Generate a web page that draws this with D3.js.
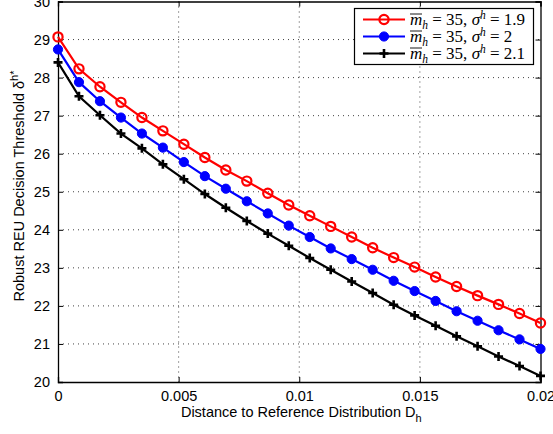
<!DOCTYPE html>
<html><head><meta charset="utf-8">
<script src="https://cdn.jsdelivr.net/npm/d3@7"></script>
<style>body{margin:0;background:#fff;} svg{display:block;}</style>
</head><body>
<svg id="c" width="553" height="434"></svg>
<script>
const nPts = 24;
const xValues = d3.range(nPts).map(i => i * 0.02 / 23);
const red = [29.07,28.23,27.76,27.35,26.95,26.60,26.25,25.90,25.57,25.28,24.96,24.65,24.37,24.09,23.81,23.53,23.27,23.02,22.76,22.51,22.27,22.04,21.80,21.55];
const blue = [28.74,27.88,27.38,26.95,26.53,26.16,25.78,25.41,25.08,24.75,24.43,24.11,23.81,23.51,23.23,22.95,22.66,22.39,22.13,21.86,21.61,21.36,21.12,20.87];
const black = [28.40,27.51,27.01,26.53,26.14,25.72,25.33,24.94,24.58,24.23,23.90,23.58,23.26,22.95,22.64,22.34,22.03,21.75,21.48,21.20,20.94,20.67,20.42,20.16];
const xTicks = [0,0.005,0.01,0.015,0.02];
const xTickLabels = ["0","0.005","0.01","0.015","0.02"];
const yTicks = [20,21,22,23,24,25,26,27,28,29,30];
const seriesNames = ["1.9","2","2.1"];

const svg = d3.select("#c");
const L=58, R=540.5, T=1.5, B=382;
const x = d3.scaleLinear().domain([0,0.02]).range([L,R]);
const y = d3.scaleLinear().domain([20,30]).range([B,T]);
const font = "'Liberation Sans', Arial, Helvetica, sans-serif";

// grid
const g = svg.append("g");
g.selectAll(".gx").data(xTicks.slice(1,-1)).enter().append("line")
 .attr("x1",d=>x(d)).attr("x2",d=>x(d)).attr("y1",T).attr("y2",B)
 .attr("stroke","#444").attr("stroke-width",1).attr("stroke-dasharray","1,4");
g.selectAll(".gy").data(yTicks.slice(1,-1)).enter().append("line")
 .attr("y1",d=>y(d)).attr("y2",d=>y(d)).attr("x1",L).attr("x2",R)
 .attr("stroke","#444").attr("stroke-width",1).attr("stroke-dasharray","1,4");

// axes
const ax = svg.append("g").attr("transform",`translate(0,${B})`)
 .call(d3.axisBottom(x).tickValues(xTicks).tickSize(-5).tickPadding(9).tickFormat((d,i)=>xTickLabels[i]));
const axT = svg.append("g").attr("transform",`translate(0,${T})`)
 .call(d3.axisTop(x).tickValues(xTicks).tickSize(-5).tickFormat(""));
const ay = svg.append("g").attr("transform",`translate(${L},0)`)
 .call(d3.axisLeft(y).tickValues(yTicks).tickSize(-5).tickPadding(8));
const ayR = svg.append("g").attr("transform",`translate(${R},0)`)
 .call(d3.axisRight(y).tickValues(yTicks).tickSize(-5).tickFormat(""));
[ax,axT,ay,ayR].forEach(a=>{
  a.selectAll("path").attr("stroke","#000").attr("stroke-width",1.3);
  a.selectAll("line").attr("stroke","#000");
  a.selectAll("text").attr("font-family",font).attr("font-size",14.5).attr("fill","#000");
});

// series
const series = [
 {vals:red, color:"#ff0000", marker:"open"},
 {vals:blue, color:"#0000ff", marker:"dot"},
 {vals:black, color:"#000000", marker:"plus"}
];
const line = d3.line().x((d,i)=>x(xValues[i])).y(d=>y(d));
function drawMarker(sel, type, color, cx, cy){
  if(type==="open") sel.append("circle").attr("cx",cx).attr("cy",cy).attr("r",4.6).attr("fill","none").attr("stroke",color).attr("stroke-width",2.2);
  else if(type==="dot") sel.append("circle").attr("cx",cx).attr("cy",cy).attr("r",4.6).attr("fill",color).attr("stroke",color).attr("stroke-width",1);
  else sel.append("path").attr("d",`M${cx-4.5},${cy}H${cx+4.5}M${cx},${cy-4.5}V${cy+4.5}`).attr("stroke",color).attr("stroke-width",2.6);
}
series.slice().reverse().forEach(s=>{
  svg.append("path").datum(s.vals).attr("d",line).attr("fill","none").attr("stroke",s.color).attr("stroke-width",2.2);
  const mg = svg.append("g");
  s.vals.forEach((v,i)=>drawMarker(mg,s.marker,s.color,x(xValues[i]),y(v)));
});

// axis labels
svg.append("text").attr("x",(L+R)/2+2).attr("y",417).attr("text-anchor","middle")
 .attr("font-family",font).attr("font-size",14.5)
 .html('Distance to Reference Distribution D<tspan dy="5" font-size="11">h</tspan>');
svg.append("text").attr("transform","translate(24,186) rotate(-90)").attr("text-anchor","middle")
 .attr("font-family",font).attr("font-size",14.5)
 .html('Robust REU Decision Threshold δ<tspan dy="-6" font-size="11">h*</tspan>');

// legend
const lg = svg.append("g");
lg.append("rect").attr("x",354.5).attr("y",8.5).attr("width",179).attr("height",56).attr("fill","#fff").attr("stroke","#000").attr("stroke-width",1.2);
const serif = "'Liberation Serif','DejaVu Serif','Times New Roman',serif";
series.forEach((s,i)=>{
  const ry = 19.5 + i*17;
  lg.append("line").attr("x1",363).attr("x2",405).attr("y1",ry).attr("y2",ry).attr("stroke",s.color).attr("stroke-width",2.2);
  drawMarker(lg,s.marker,s.color,384,ry);
  // overline bar over m
  lg.append("line").attr("x1",410).attr("x2",422).attr("y1",ry-5.5).attr("y2",ry-5.5).attr("stroke","#000").attr("stroke-width",0.9);
  const t = lg.append("text").attr("x",410).attr("y",ry+5.5).attr("font-family",serif).attr("font-size",17);
  t.append("tspan").attr("font-style","italic").text("m");
  t.append("tspan").attr("font-style","italic").attr("font-size",11.5).attr("dy",3.5).text("h");
  t.append("tspan").attr("dy",-3.5).text(" = 35, ");
  t.append("tspan").attr("font-style","italic").text("σ");
  t.append("tspan").attr("font-style","italic").attr("font-size",11.5).attr("dy",-6).text("h");
  t.append("tspan").attr("dy",6).text(" = " + seriesNames[i]);
});
</script>
</body></html>
